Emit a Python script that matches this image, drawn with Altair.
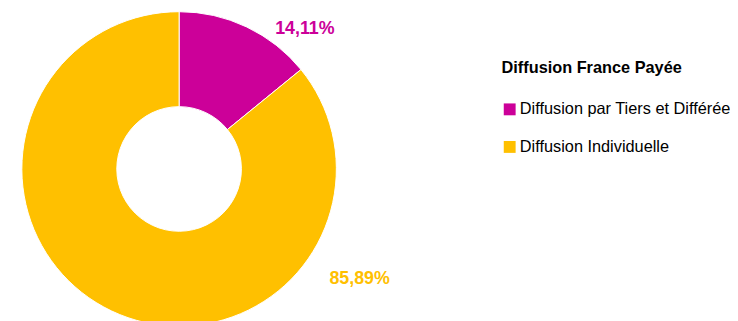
import altair as alt
import pandas as pd

categories = ["Diffusion par Tiers et Différée", "Diffusion Individuelle"]
values = [14.11, 85.89]
labels = ["14,11%", "85,89%"]
colors = ["#CC0099", "#FFC000"]
legend_title = "Diffusion France Payée"

df = pd.DataFrame({"cat": categories, "value": values, "label": labels, "order": [0, 1]})

FONT = "Liberation Sans Narrow, Arial Narrow, Liberation Sans"

color = alt.Color(
    "cat:N",
    sort=categories,
    scale=alt.Scale(domain=categories, range=colors),
    legend=alt.Legend(
        title=legend_title,
        orient="none",
        legendX=493,
        legendY=40,
        symbolType="square",
        symbolSize=144,
        symbolStrokeWidth=0,
        titleFont=FONT,
        titleFontSize=16.5,
        titleFontWeight="bold",
        titleColor="#000000",
        titlePadding=25,
        titleLimit=400,
        labelFont=FONT,
        labelFontSize=16.5,
        labelColor="#000000",
        labelLimit=400,
        rowPadding=21,
        labelOffset=2,
    ),
)

base = alt.Chart(df).encode(
    theta=alt.Theta("value:Q", stack=True),
    order=alt.Order("order:Q"),
)

arc = base.mark_arc(outerRadius=159, innerRadius=63, stroke="white", strokeWidth=1).encode(color=color)

lab1 = base.mark_text(
    radius=190, thetaOffset=0.29, font=FONT, fontSize=18, fontWeight="bold",
    align="center", baseline="middle", color=colors[0],
).encode(text=alt.condition(alt.datum.order == 0, "label:N", alt.value("")))

lab2 = base.mark_text(
    radius=214, thetaOffset=-1.465, font=FONT, fontSize=18, fontWeight="bold",
    align="center", baseline="middle", color=colors[1],
).encode(text=alt.condition(alt.datum.order == 1, "label:N", alt.value("")))

chart = (
    alt.layer(arc, lab1, lab2)
    .properties(
        width=334,
        height=300,
        padding={"left": 6, "top": 11, "right": 390, "bottom": 2},
        autosize=alt.AutoSizeParams(type="none"),
    )
    .configure_view(stroke=None)
)

chart.save("out.html", embed_options={"renderer": "svg", "actions": False})
